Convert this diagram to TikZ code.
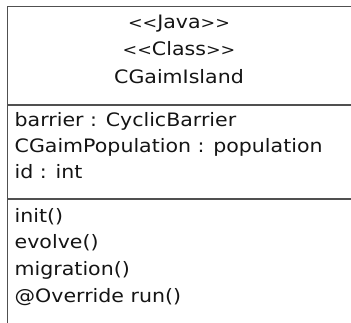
\documentclass[tikz,border=0pt]{standalone}
\usepackage{fontspec}
\usepackage{graphicx}
\setmainfont{DejaVu Sans}[FakeStretch=1.11]
% a slightly smaller angle bracket for stereotypes
\newcommand\stlt{\scalebox{0.85}{<}}
\newcommand\stgt{\scalebox{0.85}{>}}
\begin{document}
\begin{tikzpicture}[x=1pt,y=-1pt,
  frame/.style={draw={rgb,255:red,80;green,80;blue,80}, line width=1.4pt},
  label text/.style={inner sep=0pt, font=\fontsize{18.5}{22}\selectfont, text={rgb,255:red,20;green,20;blue,20}},
  centred/.style={label text, anchor=base},
  member/.style={label text, anchor=base west}]
  \useasboundingbox (0,0) rectangle (351,323);
  % class frame: open to the right and bottom edges
  \coordinate (tl) at (7.5,6.5);
  \coordinate (tr) at (356,6.5);
  \coordinate (bl) at (7.5,330);
  \coordinate (s1l) at (7.5,105);
  \coordinate (s1r) at (356,105);
  \coordinate (s2l) at (7.5,199);
  \coordinate (s2r) at (356,199);
  \draw[frame] (bl) -- (tl) -- (tr);
  \draw[frame] (s1l) -- (s1r);
  \draw[frame] (s2l) -- (s2r);
  % header
  \node[centred] (stereo1) at (179,29) {\stlt\stlt Java\stgt\stgt};
  \node[centred] (stereo2) at (179,56) {\stlt\stlt Class\stgt\stgt};
  \node[centred] (cname) at (179,83.5) {CGaimIsland};
  % attributes
  \node[member] (attr1) at (14.5,127) {barrier : CyclicBarrier};
  \node[member] (attr2) at (14.5,153) {CGaimPopulation : population};
  \node[member] (attr3) at (14.5,179) {id : int};
  % operations
  \node[member] (op1) at (14.5,223) {init()};
  \node[member] (op2) at (14.5,249) {evolve()};
  \node[member] (op3) at (14.5,276) {migration()};
  \node[member] (op4) at (14.5,302) {@Override run()};
\end{tikzpicture}
\end{document}
